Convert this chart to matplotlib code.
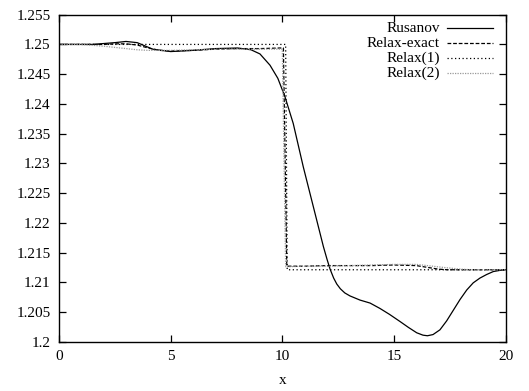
import matplotlib
matplotlib.use("Agg")
import matplotlib.pyplot as plt

plt.rcParams['font.family'] = ['Liberation Serif', 'DejaVu Serif']

# ---- data ----
rus_x = [0, 1.5, 2.5, 3.0, 3.5, 4.2, 5.0, 6.0, 7.0, 8.0, 8.6, 9.0, 9.45, 9.8, 10.12,
         10.49, 10.94, 11.39, 11.84, 12.0, 12.14, 12.3, 12.44, 12.6, 12.8, 13.03,
         13.48, 13.93, 14.37, 14.8, 15.27, 15.65, 16.02, 16.3, 16.5, 16.75, 17.06,
         17.36, 17.66, 17.96, 18.26, 18.55, 18.85, 19.15, 19.45, 19.75, 20.0]
rus_y = [1.25, 1.25, 1.2503, 1.2505, 1.2503, 1.2492, 1.2488, 1.2490, 1.2493, 1.2494,
         1.2491, 1.2484, 1.2465, 1.2443, 1.2412, 1.2367, 1.2294, 1.2227, 1.2160,
         1.2139, 1.2122, 1.2107, 1.2097, 1.2089, 1.2082, 1.2077, 1.2070, 1.2065,
         1.2056, 1.2046, 1.2034, 1.2024, 1.2015, 1.2011, 1.2010, 1.2012, 1.2020,
         1.2035, 1.2053, 1.2071, 1.2087, 1.2099, 1.2107, 1.2113, 1.2118, 1.2120,
         1.2121]

rex_x = [0, 2.0, 2.5, 3.0, 3.5, 4.0, 4.5, 5.0, 6.0, 7.0, 8.0, 9.0, 9.9, 10.05,
         10.2, 11, 12, 13, 14, 15, 16.0, 16.5, 17.0, 17.4, 17.8, 18.5, 20]
rex_y = [1.25, 1.25, 1.2501, 1.2501, 1.2499, 1.2494, 1.2490, 1.2489, 1.2490, 1.2492,
         1.2493, 1.2493, 1.2494, 1.2494, 1.2127, 1.2127, 1.2128, 1.2128, 1.2128,
         1.2129, 1.2128, 1.2125, 1.2122, 1.2121, 1.2121, 1.2121, 1.2121]

r1_x = [0, 10.15, 10.22, 20]
r1_y = [1.25, 1.25, 1.2121, 1.2121]

r2_x = [0, 1.0, 2.0, 3.0, 3.5, 4.0, 5.0, 6, 7, 8, 9, 10.0, 10.15, 11, 12, 13, 14,
        15, 15.5, 16, 16.5, 17.2, 18.0, 18.5, 20]
r2_y = [1.25, 1.25, 1.2497, 1.2493, 1.2491, 1.2490, 1.2490, 1.2491, 1.2492, 1.2492,
        1.2492, 1.2492, 1.2126, 1.2127, 1.2127, 1.2128, 1.2129, 1.2130, 1.2130,
        1.2130, 1.2128, 1.2125, 1.2122, 1.2121, 1.2121]

labels = ["Rusanov", "Relax-exact", "Relax(1)", "Relax(2)"]
xticks = [0, 5, 10, 15, 20]
yticks = [1.2, 1.205, 1.21, 1.215, 1.22, 1.225, 1.23, 1.235, 1.24, 1.245, 1.25, 1.255]
ytick_labels = ["1.2", "1.205", "1.21", "1.215", "1.22", "1.225", "1.23", "1.235",
                "1.24", "1.245", "1.25", "1.255"]

fig = plt.figure(figsize=(5.29, 3.91), dpi=100)
ax = fig.add_axes([59 / 529, 1 - 341.7 / 391, (505.6 - 59) / 529, (341.7 - 14.7) / 391])

styles = [
    dict(color="black", lw=0.9, ls="-"),
    dict(color="black", lw=0.9, ls=(0, (3, 1.5))),
    dict(color="black", lw=0.9, ls=(0, (1, 2))),
    dict(color="#999999", lw=0.9, ls=(0, (1, 1))),
]
series = [(rus_x, rus_y), (rex_x, rex_y), (r1_x, r1_y), (r2_x, r2_y)]
for (sx, sy), st in zip(series, styles):
    ax.plot(sx, sy, **st)

ax.set_xlim(0, 20)
ax.set_ylim(1.2, 1.255)
ax.set_xticks(xticks)
ax.set_xticklabels([str(t) for t in xticks])
ax.set_yticks(yticks)
ax.set_yticklabels(ytick_labels)
ax.tick_params(direction="in", top=True, right=True, length=5, width=0.9,
               labelsize=11, pad=6)
for s in ax.spines.values():
    s.set_linewidth(1.0)
ax.set_xlabel("x", fontsize=11, labelpad=8)

# gnuplot-style key: right-aligned text, sample line to the right
rows = [0.958, 0.913, 0.867, 0.821]
for lab, st, yy in zip(labels, styles, rows):
    ax.text(0.853, yy, lab, transform=ax.transAxes, ha="right", va="center",
            fontsize=11)
    ax.plot([0.868, 0.972], [yy, yy], transform=ax.transAxes, **st)

fig.savefig("out.png", dpi=100)
